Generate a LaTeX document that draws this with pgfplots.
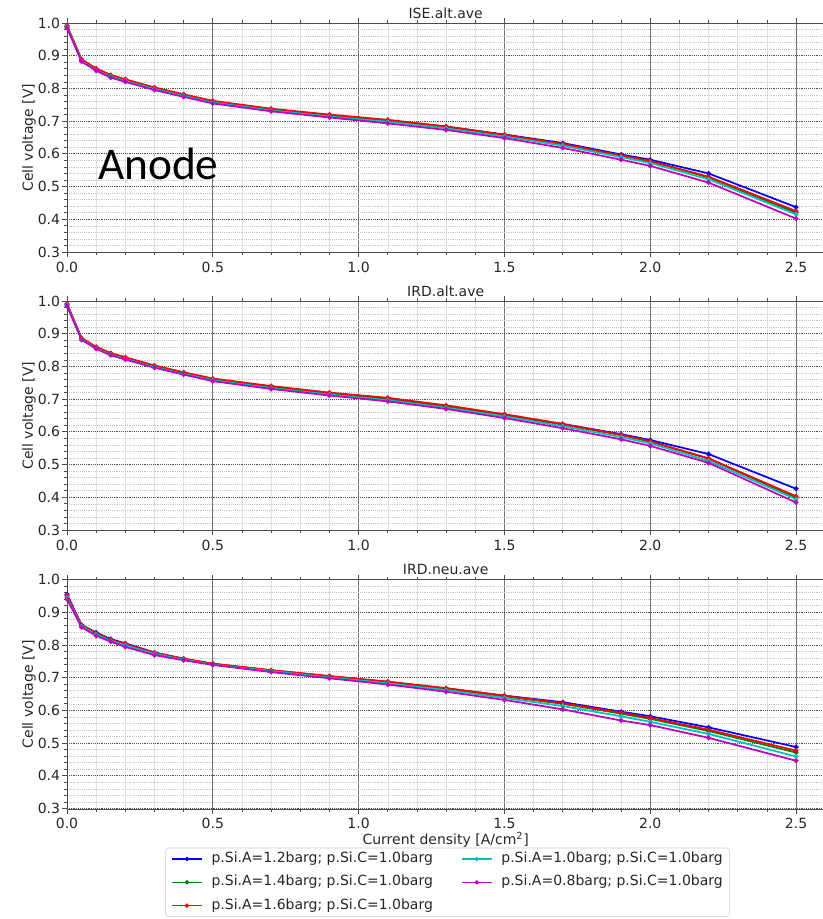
\documentclass[border=0pt]{standalone}
\usepackage{fontspec}
\setmainfont{DejaVu Sans}
\newfontfamily\calibri{Carlito}
\usepackage{pgfplots}
\usepackage{pgfplotstable}
\pgfplotsset{compat=1.18}

% x = current density, b/g/r/c/m = p.Si.A 1.2/1.4/1.6/1.0/0.8 barg
\pgfplotstableread{
x    b     g     r     c     m
0.00 0.990 0.990 0.992 0.988 0.985
0.05 0.886 0.887 0.889 0.884 0.882
0.10 0.858 0.859 0.861 0.856 0.854
0.15 0.838 0.839 0.841 0.836 0.833
0.20 0.825 0.826 0.828 0.823 0.820
0.30 0.800 0.801 0.803 0.798 0.795
0.40 0.779 0.780 0.782 0.777 0.774
0.50 0.760 0.760 0.762 0.757 0.754
0.70 0.736 0.736 0.738 0.733 0.730
0.90 0.717 0.718 0.720 0.714 0.711
1.10 0.702 0.701 0.704 0.698 0.693
1.30 0.683 0.682 0.684 0.678 0.673
1.50 0.659 0.657 0.658 0.653 0.648
1.70 0.633 0.630 0.630 0.625 0.618
1.90 0.598 0.594 0.595 0.590 0.582
2.00 0.582 0.577 0.578 0.572 0.563
2.20 0.540 0.528 0.530 0.522 0.512
2.50 0.437 0.420 0.425 0.415 0.402
}\iseAlt

\pgfplotstableread{
x    b     g     r     c     m
0.00 0.990 0.990 0.992 0.988 0.985
0.05 0.884 0.885 0.887 0.883 0.881
0.10 0.857 0.858 0.860 0.856 0.854
0.15 0.838 0.839 0.841 0.836 0.834
0.20 0.825 0.826 0.828 0.823 0.821
0.30 0.800 0.801 0.803 0.798 0.796
0.40 0.779 0.780 0.782 0.777 0.775
0.50 0.760 0.761 0.763 0.758 0.755
0.70 0.737 0.738 0.740 0.734 0.731
0.90 0.717 0.718 0.720 0.714 0.711
1.10 0.701 0.702 0.704 0.697 0.693
1.30 0.678 0.679 0.681 0.674 0.670
1.50 0.652 0.652 0.654 0.647 0.642
1.70 0.624 0.622 0.624 0.617 0.611
1.90 0.593 0.590 0.591 0.584 0.577
2.00 0.575 0.570 0.571 0.565 0.557
2.20 0.532 0.518 0.519 0.511 0.505
2.50 0.426 0.399 0.403 0.394 0.384
}\irdAlt

\pgfplotstableread{
x    b     g     r     c     m
0.00 0.955 0.950 0.952 0.945 0.940
0.05 0.861 0.859 0.860 0.857 0.854
0.10 0.838 0.835 0.836 0.832 0.828
0.15 0.818 0.815 0.816 0.813 0.810
0.20 0.805 0.802 0.803 0.799 0.794
0.30 0.777 0.775 0.776 0.773 0.769
0.40 0.758 0.757 0.758 0.755 0.753
0.50 0.742 0.742 0.743 0.740 0.739
0.70 0.722 0.722 0.723 0.720 0.717
0.90 0.704 0.704 0.705 0.701 0.698
1.10 0.687 0.686 0.688 0.683 0.679
1.30 0.667 0.666 0.668 0.662 0.657
1.50 0.645 0.643 0.645 0.638 0.632
1.70 0.625 0.620 0.622 0.613 0.603
1.90 0.596 0.590 0.593 0.582 0.569
2.00 0.582 0.574 0.577 0.565 0.555
2.20 0.548 0.537 0.541 0.528 0.516
2.50 0.488 0.471 0.477 0.459 0.446
}\irdNeu

\definecolor{mplg}{rgb}{0,0.5,0}
\definecolor{mplc}{rgb}{0,0.75,0.75}
\definecolor{mplm}{rgb}{0.75,0,0.75}

\pgfplotsset{
  panel/.style={
    width=568pt, height=172.2pt, scale only axis,
    xmin=0, xmax=2.597, ymin=0.298, ymax=1.0,
    xtick={0,0.5,1,1.5,2,2.5},
    ytick={0.3,0.4,0.5,0.6,0.7,0.8,0.9,1.0},
    minor x tick num=4, minor y tick num=4,
    xticklabel style={/pgf/number format/.cd, fixed, fixed zerofill, precision=1},
    yticklabel style={inner xsep=1.5pt, /pgf/number format/.cd, fixed, fixed zerofill, precision=1},
    /pgf/number format/assume math mode=true,
    tick align=outside, major tick length=3.5pt, minor tick length=2pt,
    tick style={black!70, line width=0.5pt},
    axis line style={black!70, line width=0.6pt},
    grid=both,
    major x grid style={black!55, line width=0.5pt},
    major y grid style={black!70, densely dotted, line width=0.6pt},
    minor x grid style={black!12, line width=0.4pt},
    minor y grid style={black!22, densely dotted, line width=0.4pt},
    font=\fontsize{10.5}{12.6}\selectfont,
    ticklabel style={text=black!85},
    ylabel={Cell voltage [V]},
    ylabel style={at={(axis description cs:-0.050,0.5)}, anchor=center, text=black!85},
    title style={text=black!85, yshift=-6pt},
    every axis plot/.append style={line width=1.3pt, mark=*, mark size=1.1pt},
  },
  sb/.style={blue, mark options={fill=blue}},
  sg/.style={mplg, mark options={fill=mplg}},
  sr/.style={red, mark options={fill=red}},
  sc/.style={mplc, mark options={fill=mplc}},
  sm/.style={mplm, mark options={fill=mplm}},
  lg/.style={line width=1.1pt, mark=*, mark size=1pt},
}

\begin{document}
\begin{tikzpicture}
\useasboundingbox (-50.25pt,17.25pt) rectangle (566.25pt,-672pt);

\begin{axis}[panel, at={(0,0)}, anchor=north west, title={ISE.alt.ave}]
\addplot[sb] table[x=x,y=b] {\iseAlt};
\addplot[sg] table[x=x,y=g] {\iseAlt};
\addplot[sr] table[x=x,y=r] {\iseAlt};
\addplot[sc] table[x=x,y=c] {\iseAlt};
\addplot[sm] table[x=x,y=m] {\iseAlt};
\node[anchor=base west, inner sep=0pt, font=\calibri\fontsize{34}{40}\selectfont, text=black] at (axis cs:0.106,0.520) {Anode};
\end{axis}

\begin{axis}[panel, at={(0,-208.5pt)}, anchor=north west, title={IRD.alt.ave}]
\addplot[sb] table[x=x,y=b] {\irdAlt};
\addplot[sg] table[x=x,y=g] {\irdAlt};
\addplot[sr] table[x=x,y=r] {\irdAlt};
\addplot[sc] table[x=x,y=c] {\irdAlt};
\addplot[sm] table[x=x,y=m] {\irdAlt};
\end{axis}

\begin{axis}[panel, at={(0,-417.4pt)}, anchor=north west, title={IRD.neu.ave},
  xlabel={Current density [A/cm\textsuperscript{2}]},
  xlabel style={text=black!85, yshift=4.5pt},
  legend columns=2,
  legend cell align=left,
  legend image code/.code={
    \draw[#1, mark repeat=2, mark phase=2] plot coordinates {(0cm,0cm) (0.4cm,0cm) (0.8cm,0cm)};
  },
  legend style={at={(axis description cs:0.130,-0.168)}, anchor=north west,
    draw=black!20, rounded corners=2pt, fill=white,
    font=\fontsize{10.5}{12.6}\selectfont, text=black!85,
    row sep=5pt, inner xsep=4pt, inner ysep=2pt,
    nodes={inner sep=1pt, text height=8pt, text depth=2.5pt},
    /tikz/every odd column/.append style={column sep=5.5pt},
    /tikz/every even column/.append style={column sep=20pt}},
]
\addlegendimage{sb, lg}
\addlegendentry{p.Si.A=1.2barg; p.Si.C=1.0barg}
\addlegendimage{sc, lg}
\addlegendentry{p.Si.A=1.0barg; p.Si.C=1.0barg}
\addlegendimage{sg, lg}
\addlegendentry{p.Si.A=1.4barg; p.Si.C=1.0barg}
\addlegendimage{sm, lg}
\addlegendentry{p.Si.A=0.8barg; p.Si.C=1.0barg}
\addlegendimage{sr, lg}
\addlegendentry{p.Si.A=1.6barg; p.Si.C=1.0barg}
\addplot[sb, forget plot] table[x=x,y=b] {\irdNeu};
\addplot[sg, forget plot] table[x=x,y=g] {\irdNeu};
\addplot[sr, forget plot] table[x=x,y=r] {\irdNeu};
\addplot[sc, forget plot] table[x=x,y=c] {\irdNeu};
\addplot[sm, forget plot] table[x=x,y=m] {\irdNeu};
\end{axis}
\end{tikzpicture}
\end{document}
